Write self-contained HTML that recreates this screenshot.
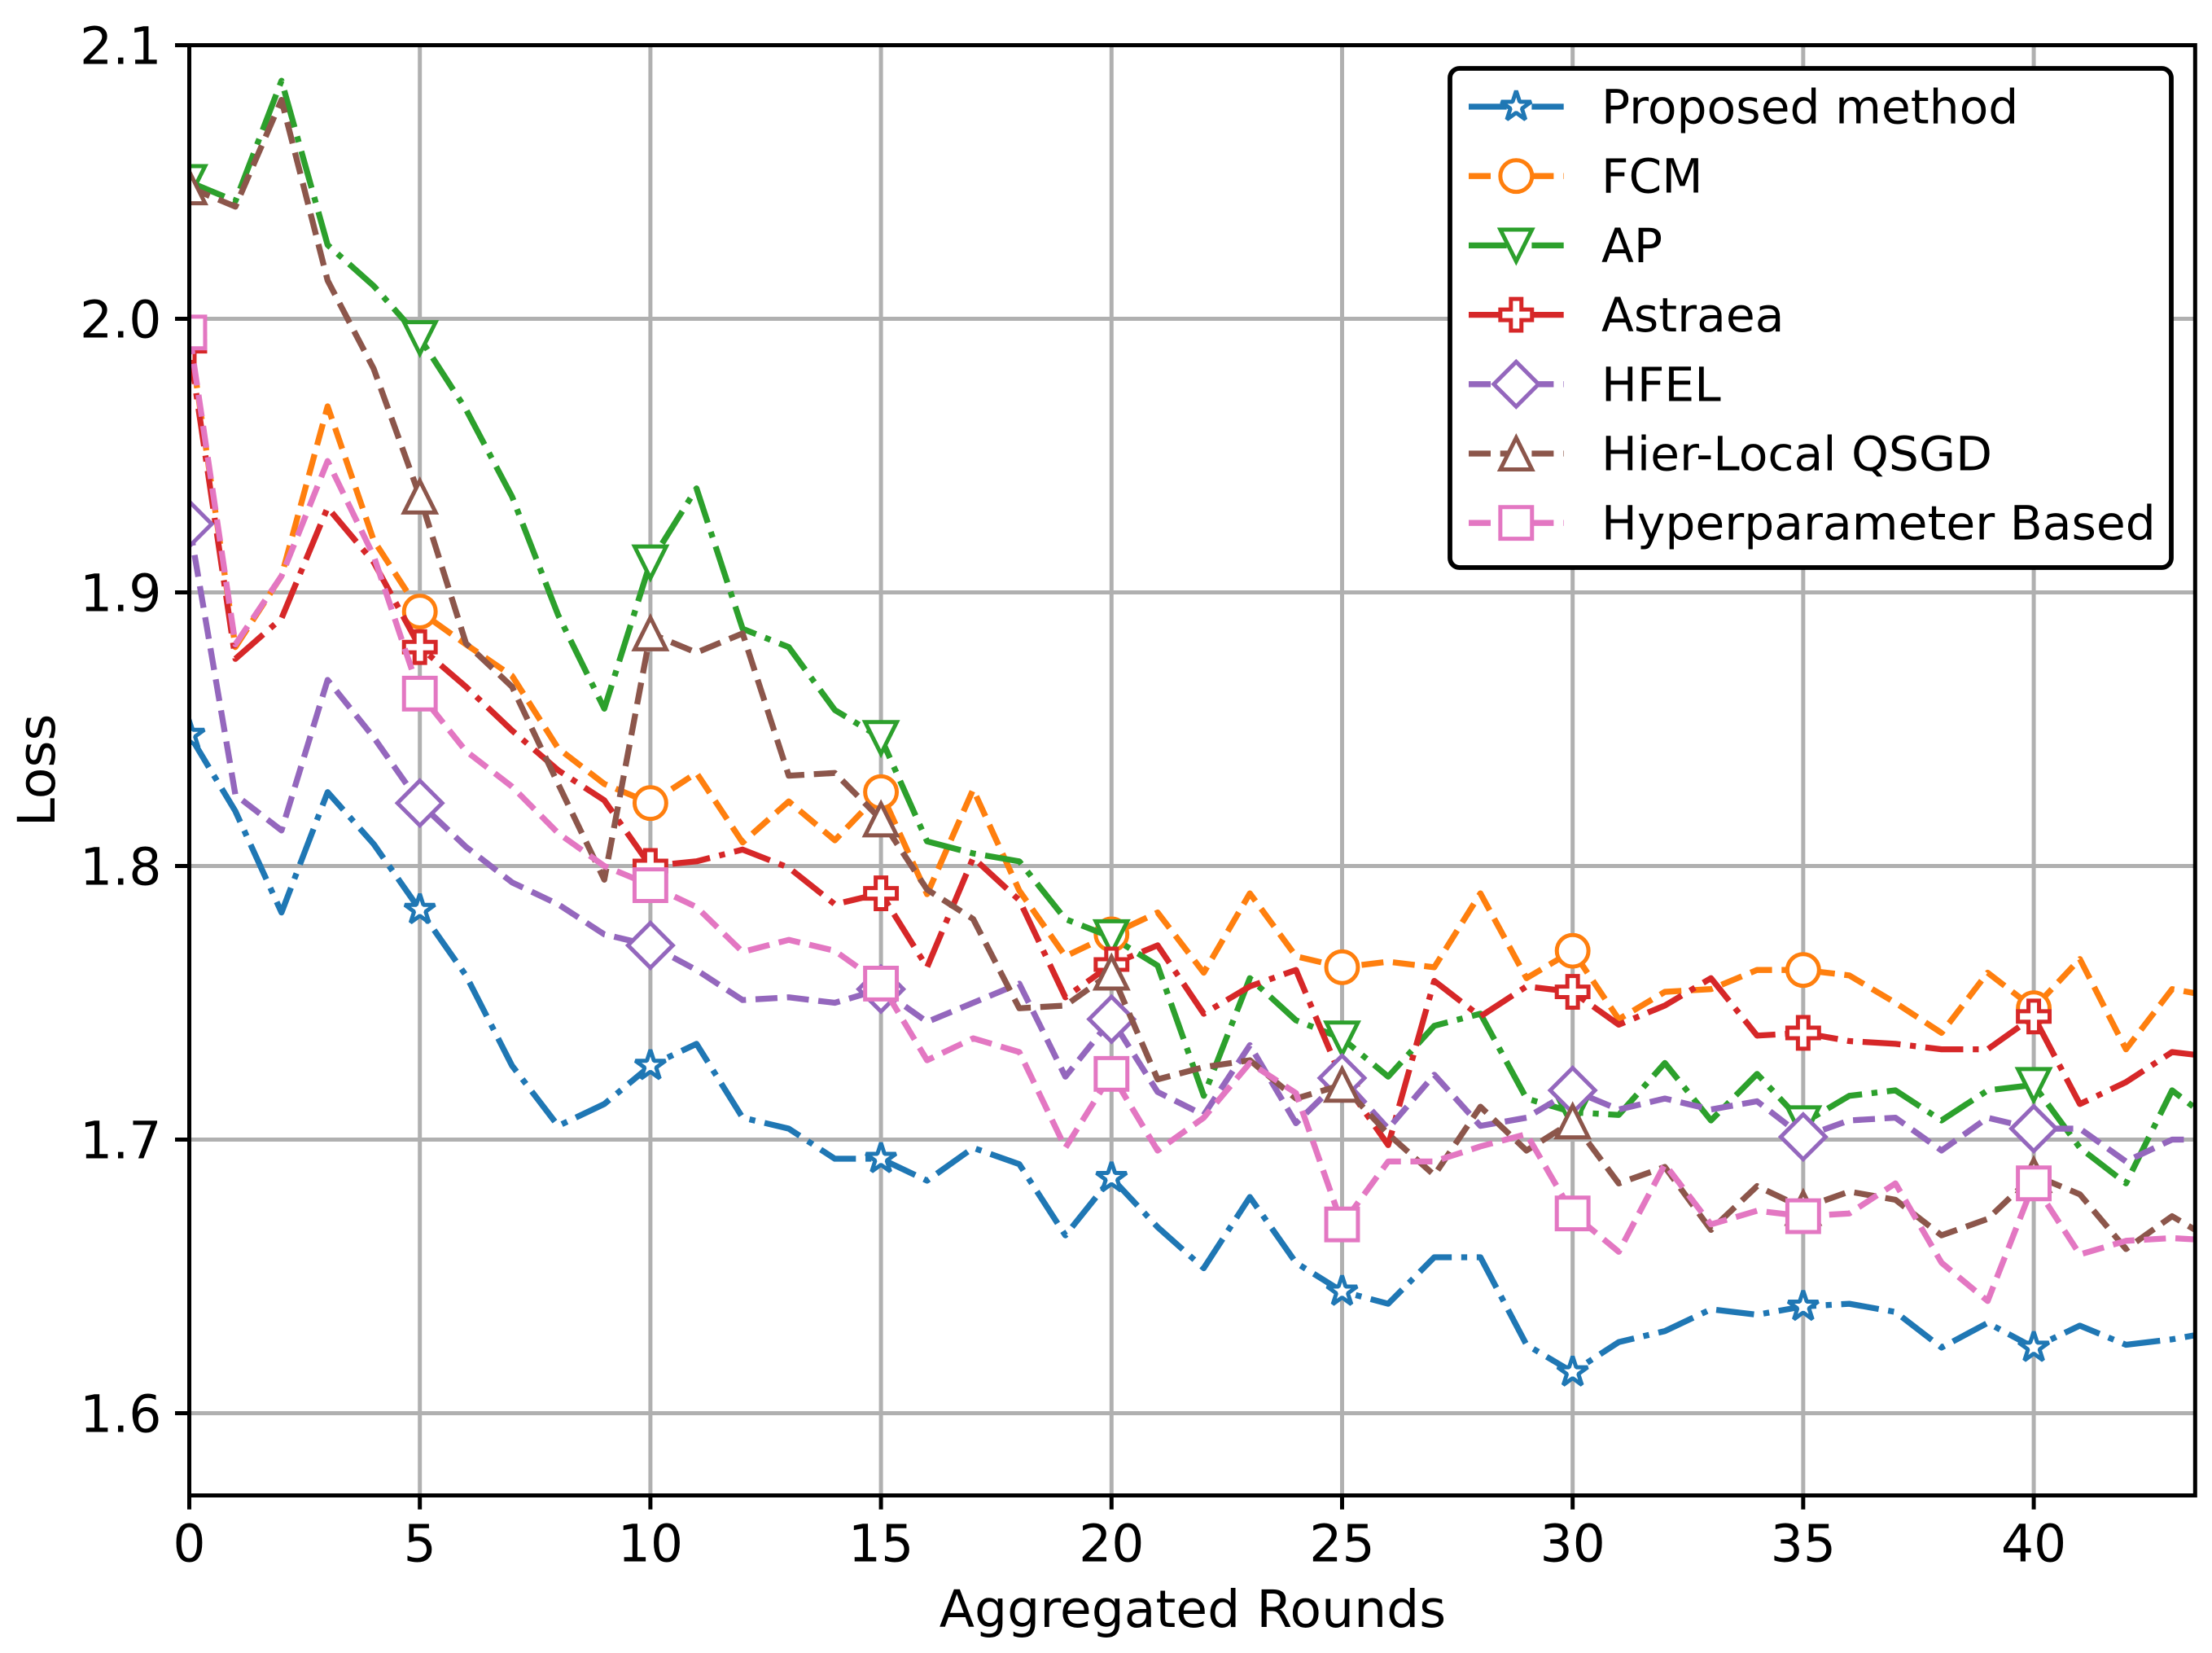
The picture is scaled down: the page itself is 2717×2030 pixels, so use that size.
<!DOCTYPE html>
<html lang="en">
<head>
<meta charset="utf-8">
<title>Loss vs Aggregated Rounds</title>
<style>
html,body{margin:0;padding:0;background:#fff;}
svg{display:block;}
text{font-family:"DejaVu Sans","Liberation Sans",sans-serif;fill:#000;}
</style>
</head>
<body>
<svg id="chart" xmlns="http://www.w3.org/2000/svg" width="2717" height="2030" viewBox="0 0 2717 2030">
  <defs><clipPath id="plot-clip"><rect x="232.5" y="55.5" width="2463.8" height="1781"></rect></clipPath></defs>
  <rect x="0" y="0" width="2717" height="2030" fill="#fff"></rect>
  <g id="grid"></g>
  <g id="series" clip-path="url(#plot-clip)"></g>
  <g id="axes"></g>
  <text x="1465" y="1998" text-anchor="middle" font-size="63.2">Aggregated Rounds</text>
  <text transform="translate(67 946) rotate(-90)" text-anchor="middle" font-size="63.2">Loss</text>
  <g id="legend"></g>
</svg>
<script>
const rounds = [0,1,2,3,4,5,6,7,8,9,10,11,12,13,14,15,16,17,18,19,20,21,22,23,24,25,26,27,28,29,30,31,32,33,34,35,36,37,38,39,40,41,42,43,44];
const proposedLoss = [1.848,1.82,1.783,1.827,1.808,1.784,1.76,1.727,1.705,1.713,1.727,1.735,1.708,1.704,1.693,1.693,1.685,1.697,1.691,1.665,1.686,1.668,1.653,1.679,1.655,1.6445,1.64,1.657,1.657,1.625,1.615,1.626,1.63,1.638,1.636,1.639,1.64,1.637,1.624,1.633,1.624,1.632,1.625,1.627,1.63];
const fcmLoss = [1.994,1.88,1.906,1.968,1.919,1.893,1.881,1.8695,1.843,1.83,1.823,1.834,1.8086,1.8236,1.8094,1.827,1.7897,1.828,1.791,1.767,1.775,1.783,1.761,1.79,1.767,1.763,1.765,1.763,1.79,1.759,1.769,1.744,1.754,1.755,1.762,1.762,1.76,1.75,1.739,1.761,1.748,1.766,1.733,1.755,1.752];
const apLoss = [2.05,2.043,2.087,2.027,2.012,1.993,1.9669,1.935,1.8917,1.8575,1.911,1.938,1.8867,1.88,1.857,1.8468,1.809,1.8046,1.8017,1.7806,1.774,1.7636,1.716,1.759,1.7436,1.737,1.723,1.7416,1.746,1.715,1.71,1.709,1.728,1.707,1.724,1.706,1.716,1.718,1.707,1.718,1.72,1.697,1.684,1.718,1.705];
const astraeaLoss = [1.99,1.8757,1.8905,1.931,1.911,1.88,1.8655,1.8495,1.835,1.824,1.8,1.8017,1.806,1.7994,1.786,1.79,1.763,1.803,1.7875,1.752,1.764,1.771,1.746,1.756,1.762,1.722,1.698,1.758,1.745,1.756,1.754,1.742,1.749,1.759,1.738,1.739,1.736,1.735,1.733,1.733,1.745,1.713,1.721,1.732,1.73];
const hfelLoss = [1.925,1.826,1.813,1.868,1.847,1.823,1.807,1.794,1.786,1.775,1.771,1.762,1.751,1.752,1.75,1.755,1.743,1.75,1.757,1.723,1.744,1.7174,1.709,1.7345,1.706,1.7225,1.704,1.7237,1.705,1.708,1.718,1.711,1.715,1.711,1.714,1.701,1.707,1.708,1.696,1.708,1.704,1.704,1.692,1.7,1.7];
const hierLocalLoss = [2.048,2.041,2.08,2.014,1.9817,1.935,1.8814,1.8655,1.83,1.795,1.885,1.878,1.885,1.833,1.834,1.817,1.7914,1.7806,1.748,1.749,1.761,1.722,1.7265,1.729,1.715,1.72,1.702,1.687,1.712,1.696,1.7066,1.684,1.69,1.667,1.683,1.675,1.681,1.678,1.665,1.671,1.687,1.68,1.66,1.672,1.662];
const hyperparamLoss = [1.995,1.881,1.906,1.948,1.9133,1.863,1.842,1.829,1.812,1.8,1.793,1.785,1.7686,1.773,1.769,1.757,1.729,1.737,1.732,1.697,1.724,1.696,1.708,1.728,1.717,1.669,1.692,1.692,1.6975,1.702,1.673,1.659,1.691,1.669,1.674,1.672,1.673,1.684,1.655,1.641,1.684,1.658,1.663,1.664,1.663];
const xTickValues = [0,5,10,15,20,25,30,35,40];
const xTickLabels = ["0","5","10","15","20","25","30","35","40"];
const yTickValues = [1.6,1.7,1.8,1.9,2.0,2.1];
const yTickLabels = ["1.6","1.7","1.8","1.9","2.0","2.1"];
const seriesNames = ["Proposed method","FCM","AP","Astraea","HFEL","Hier-Local QSGD","Hyperparameter Based"];
const seriesValues = [proposedLoss,fcmLoss,apLoss,astraeaLoss,hfelLoss,hierLocalLoss,hyperparamLoss];
const seriesColors = ["#1f77b4","#ff7f0e","#2ca02c","#d62728","#9467bd","#8c564b","#e377c2"];
const seriesDashes = ["46.7 11.7 7.3 11.7","27 11.7","46.7 11.7 7.3 11.7","46.7 11.7 7.3 11.7","27 11.7","27 11.7","27 11.7"];
const seriesMarkers = ["star","circle","down","plus","diamond","up","square"];

const SVG_NS = "http://www.w3.org/2000/svg";
const plotLeft = 232.5, plotRight = 2696.3, plotTop = 55.5, plotBottom = 1836.5;
const xDomainMin = 0, xDomainMax = 43.5, yDomainMin = 1.56994, yDomainMax = 2.1;
const markEvery = 5, markerSize = 38.9, markerEdge = 5, lineWidth = 7.3, frameWidth = 5;

function xScale(v){ return plotLeft + (v - xDomainMin) / (xDomainMax - xDomainMin) * (plotRight - plotLeft); }
function yScale(v){ return plotBottom - (v - yDomainMin) / (yDomainMax - yDomainMin) * (plotBottom - plotTop); }
function make(tag, attrs, parent){
  const el = document.createElementNS(SVG_NS, tag);
  for (const k in attrs) el.setAttribute(k, attrs[k]);
  parent.appendChild(el);
  return el;
}
function markerShape(kind, cx, cy, parent, color){
  const r = markerSize / 2;
  const base = {fill:"#fff", stroke:color, "stroke-width":markerEdge, "stroke-linejoin":"miter", "stroke-miterlimit":10};
  if (kind === "circle") return make("circle", Object.assign({cx:cx, cy:cy, r:r}, base), parent);
  let pts = [];
  if (kind === "square") pts = [[-1,-1],[1,-1],[1,1],[-1,1]];
  if (kind === "diamond") pts = [[0,-1.414],[1.414,0],[0,1.414],[-1.414,0]];
  if (kind === "down") pts = [[-1,-1],[1,-1],[0,1]];
  if (kind === "up") pts = [[0,-1],[1,1],[-1,1]];
  if (kind === "plus") pts = [[-1/3,-1],[1/3,-1],[1/3,-1/3],[1,-1/3],[1,1/3],[1/3,1/3],[1/3,1],[-1/3,1],[-1/3,1/3],[-1,1/3],[-1,-1/3],[-1/3,-1/3]];
  if (kind === "star") {
    for (let i = 0; i < 10; i++) {
      const rad = i % 2 ? 0.381966 : 1;
      const ang = i * Math.PI / 5;
      pts.push([rad * Math.sin(ang), -rad * Math.cos(ang)]);
    }
    base["stroke-linejoin"] = "bevel";
  }
  const d = pts.map(p => (cx + p[0] * r).toFixed(2) + "," + (cy + p[1] * r).toFixed(2)).join(" ");
  return make("polygon", Object.assign({points:d}, base), parent);
}

const gridLayer = document.getElementById("grid");
const seriesLayer = document.getElementById("series");
const axesLayer = document.getElementById("axes");
const legendLayer = document.getElementById("legend");

xTickValues.forEach(function(v){
  const line = make("line", {x1:xScale(v), x2:xScale(v), y1:plotTop, y2:plotBottom, stroke:"#b0b0b0", "stroke-width":frameWidth}, gridLayer);
  
  
});
yTickValues.forEach(function(v){
  const line = make("line", {x1:plotLeft, x2:plotRight, y1:yScale(v), y2:yScale(v), stroke:"#b0b0b0", "stroke-width":frameWidth}, gridLayer);
  
  
});

seriesValues.forEach(function(values, s){
  const group = make("g", {}, seriesLayer);
  
  
  const pts = values.map((v, i) => xScale(rounds[i]).toFixed(2) + "," + yScale(v).toFixed(2)).join(" ");
  const line = make("polyline", {points:pts, fill:"none", stroke:seriesColors[s], "stroke-width":lineWidth, "stroke-dasharray":seriesDashes[s], "stroke-linejoin":"round", "stroke-linecap":"butt"}, group);
  
  
  values.forEach(function(v, i){
    if (rounds[i] % markEvery !== 0) return;
    const mark = markerShape(seriesMarkers[s], xScale(rounds[i]), yScale(v), group, seriesColors[s]);
    
    
  });
});

xTickValues.forEach(function(v, i){
  const tick = make("line", {x1:xScale(v), x2:xScale(v), y1:plotBottom, y2:plotBottom + 17.2, stroke:"#000", "stroke-width":frameWidth}, axesLayer);
  
  
  const label = make("text", {x:xScale(v), y:1917.5, "text-anchor":"middle", "font-size":63.2}, axesLayer);
  label.textContent = xTickLabels[i];
  
  
});
yTickValues.forEach(function(v, i){
  const tick = make("line", {x1:plotLeft - 17.5, x2:plotLeft, y1:yScale(v), y2:yScale(v), stroke:"#000", "stroke-width":frameWidth}, axesLayer);
  
  
  const label = make("text", {x:198.5, y:yScale(v) + 23, "text-anchor":"end", "font-size":63.2}, axesLayer);
  label.textContent = yTickLabels[i];
  
  
});
const spines = make("rect", {x:plotLeft, y:plotTop, width:plotRight - plotLeft, height:plotBottom - plotTop, fill:"none", stroke:"#000", "stroke-width":frameWidth, "stroke-linejoin":"miter"}, axesLayer);



const legendBox = make("rect", {x:1781, y:84, width:886, height:613, rx:11.7, ry:11.7, fill:"#fff", stroke:"#000", "stroke-width":5.8}, legendLayer);


seriesNames.forEach(function(name, s){
  const rowY = 131 + s * 85.2;
  const row = make("g", {}, legendLayer);
  
  
  const handle = make("line", {x1:1804, x2:1920.7, y1:rowY, y2:rowY, stroke:seriesColors[s], "stroke-width":lineWidth, "stroke-dasharray":seriesDashes[s]}, row);
  
  
  const mark = markerShape(seriesMarkers[s], 1862.3, rowY, row, seriesColors[s]);
  
  
  const label = make("text", {x:1967, y:rowY + 20.5, "font-size":58.33}, row);
  label.textContent = name;
  
  
});
</script>
</body>
</html>
